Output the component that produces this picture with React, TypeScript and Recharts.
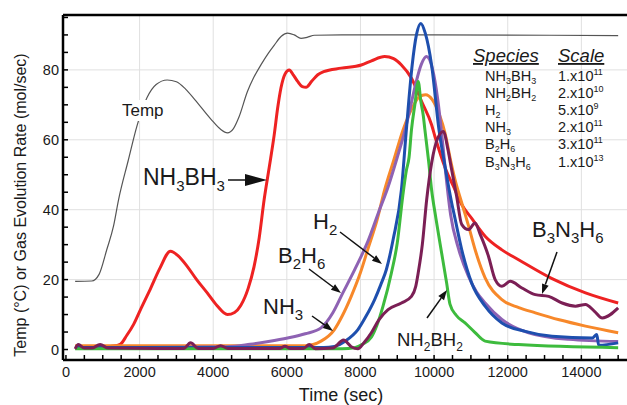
import { LineChart, Line, XAxis, YAxis, ReferenceLine } from 'recharts'

const FONT = '"Liberation Sans", Arial, Helvetica, sans-serif'

// [time (sec), value]
const temp = [
  [250, 19.5], [700, 19.6], [900, 21.5], [1110, 28.6], [1290, 35.2], [1430, 42.9], [1690, 54], [1930, 64],
  [2200, 72], [2450, 75.8], [2750, 77.1], [3000, 76.6], [3250, 74.5], [3500, 71.5], [3930, 66], [4200, 63],
  [4385, 62], [4550, 63.2], [4700, 66.5], [4930, 73.8], [5100, 77.8], [5300, 81.5], [5500, 84.8], [5660, 87.1],
  [5850, 89.6], [6020, 90.5], [6200, 90], [6385, 89], [6550, 89.3], [6750, 89.9], [7500, 90], [10000, 90], [15000, 89.8]
]
const nh3bh3 = [
  [250, 0.3], [1000, 0.3], [1200, 0.8], [1474, 1.5], [1650, 4], [1838, 7.2], [2050, 12], [2292, 17.3],
  [2550, 23.2], [2838, 28.1], [3050, 26.8], [3293, 23.8], [3550, 20], [3838, 16.2], [4100, 12.6], [4385, 10],
  [4580, 10.6], [4748, 12.6], [4950, 17.5], [5111, 23.8], [5250, 32], [5384, 42.9], [5520, 52], [5657, 61.4],
  [5750, 69], [5840, 74.8], [5950, 78.8], [6066, 80], [6180, 78.5], [6294, 76.7], [6420, 75.2], [6521, 75],
  [6680, 76.8], [6840, 78.6], [7000, 79.5], [7476, 80.5], [8022, 81.4], [8300, 82.6], [8658, 83.8], [8900, 83.2],
  [9113, 81.4], [9386, 77.6], [9659, 71], [9932, 64.3], [10022, 61], [10300, 52], [10568, 45.7], [10750, 41.5],
  [11022, 37.5], [11386, 32.4], [11841, 28.5], [12295, 25.7], [13204, 20.3], [14113, 16.2], [15000, 13.3]
]
const nh3 = [
  [250, 1.1], [6500, 1.1], [6930, 2.4], [7293, 5.7], [7500, 9.5], [7749, 15.2], [8000, 22], [8204, 28.8],
  [8450, 37], [8658, 45.7], [8900, 54], [9159, 62.9], [9400, 69], [9600, 72.3], [9768, 72.9], [9950, 71.5],
  [10150, 67], [10295, 62], [10450, 54], [10568, 48.6], [10750, 42], [10932, 35.5], [11113, 28.6], [11386, 20.5],
  [11841, 14.3], [12300, 12], [12750, 10.5], [13400, 8.5], [14113, 6.7], [15000, 4.8]
]
const b2h6 = [
  [250, 0.5], [4385, 0.8], [5000, 1.5], [5500, 2.3], [6022, 3.3], [6500, 4.5], [6930, 6.2], [7250, 10.5],
  [7522, 16.2], [7850, 23], [8204, 31], [8500, 39.5], [8750, 46.5], [9000, 55], [9204, 62.5], [9350, 69],
  [9500, 76], [9650, 81.5], [9795, 83.8], [9950, 80.5], [10100, 71.5], [10205, 62], [10300, 52], [10450, 38.5],
  [10659, 29], [10932, 21], [11150, 16.5], [11386, 13.3], [11841, 8.6], [12568, 4.8], [13659, 2.9], [15000, 2.3]
]
const h2 = [
  [250, 0.6], [7000, 0.6], [7293, 0.9], [7600, 2.5], [7931, 5.7], [8150, 9.5], [8385, 14.3], [8550, 18.5],
  [8704, 22.9], [8886, 31.4], [9113, 45.7], [9240, 62], [9405, 81.4], [9520, 90], [9640, 93.3], [9760, 90.5],
  [9932, 81.4], [10131, 63], [10295, 52.5], [10477, 42], [10568, 37.5], [10750, 28.6], [11022, 19], [11386, 12.4],
  [11841, 7.6], [12477, 5.2], [13204, 3.8], [14295, 3.3], [14420, 4.3], [14470, 1.2], [15000, 1.9]
]
const nh2bh2 = [
  [250, 0.2], [7500, 0.2], [7840, 0.5], [8050, 1.5], [8295, 3.5], [8450, 7], [8613, 12.4], [8840, 21.9],
  [9000, 30.5], [9150, 44], [9250, 51.4], [9320, 55], [9386, 62.9], [9477, 70], [9569, 76.7], [9640, 71],
  [9705, 67], [9750, 62.9], [9850, 54], [9932, 45.7], [10050, 37.5], [10159, 30.5], [10341, 19], [10431, 13],
  [10600, 9.8], [10841, 7.6], [11100, 5], [11386, 2.4], [12295, 1.4], [15000, 0.5]
]
const b3n3h6 = [
  [250, 0.2], [336, 1.4], [500, 0.4], [700, 0.4], [928, 1.4], [1150, 0.4], [3200, 0.3], [3384, 1.9],
  [3600, 0.3], [4000, 0.3], [4200, 1.1], [4400, 0.3], [5800, 0.3], [5950, 0.9], [6100, 0.3], [6450, 0.3],
  [6611, 1.4], [6780, 0.2], [7250, 0.4], [7540, 2.7], [7750, 0.8], [7931, 0.2], [8100, 2], [8295, 4.8],
  [8500, 8.5], [8750, 11.4], [9113, 13.3], [9386, 15.2], [9500, 18], [9568, 21.9], [9680, 30], [9800, 43],
  [9932, 53.3], [10100, 60.5], [10250, 62.4], [10380, 57], [10477, 51.4], [10610, 44], [10750, 35.8], [10932, 34.3],
  [11113, 36.2], [11250, 33], [11477, 26.7], [11659, 20], [11841, 18.1], [12068, 19.5], [12386, 17.6], [12750, 15.7],
  [13113, 15.2], [13477, 13.3], [13841, 12.4], [14113, 12.9], [14350, 11], [14568, 9], [15000, 11.9]
]

const xMajor = [0, 2000, 4000, 6000, 8000, 10000, 12000, 14000]
const yMajor = [0, 20, 40, 60, 80]
const xTicks = Array.from({ length: 31 }, (_, i) => i * 500)
const yTicks = Array.from({ length: 20 }, (_, i) => i * 5)
const xDomain = [-80, 15240]
const yDomain = [-3, 95.7]

const species = ['NH3BH3', 'NH2BH2', 'H2', 'NH3', 'B2H6', 'B3N3H6']
const scaleBase = ['1.x10', '2.x10', '5.x10', '2.x10', '3.x10', '1.x10']
const scaleExp = ['11', '10', '9', '11', '11', '13']

const toPts = (rows: number[][]) => rows.map(([t, v]) => ({ t, v }))

const series = [
  { name: 'Temp', rows: temp, color: '#555', width: 1.2 },
  { name: 'NH3BH3', rows: nh3bh3, color: '#ee2222', width: 3 },
  { name: 'NH3', rows: nh3, color: '#f7882a', width: 3 },
  { name: 'B2H6', rows: b2h6, color: '#8e62b3', width: 3 },
  { name: 'H2', rows: h2, color: '#1e4fae', width: 3 },
  { name: 'NH2BH2', rows: nh2bh2, color: '#3dbb3d', width: 3 },
  { name: 'B3N3H6', rows: b3n3h6, color: '#7b1f55', width: 3 },
]

const INK = '#1a1a1a'

function XTick (props: any) {
  const { x, payload } = props
  return (
    <g>
      <line x1={x} x2={x} y1={360} y2={355} stroke='#000' strokeWidth={1.5} />
      {xMajor.includes(payload.value) && (
        <text x={x} y={377} textAnchor='middle' fontSize={14.5} fill={INK} fontFamily={FONT}>{payload.value}</text>
      )}
    </g>
  )
}

function YTick (props: any) {
  const { y, payload } = props
  return (
    <g>
      <line x1={63} x2={68} y1={y} y2={y} stroke='#000' strokeWidth={1.5} />
      {yMajor.includes(payload.value) && (
        <text x={59} y={y + 5} textAnchor='end' fontSize={14.5} fill={INK} fontFamily={FONT}>{payload.value}</text>
      )}
    </g>
  )
}

// digits become subscripts
function Formula ({ x, y, f, size, sub, shift }: any) {
  const parts = f.split(/(\d+)/).filter((p: string) => p !== '')
  let down = false
  return (
    <text x={x} y={y} fontSize={size} fill={INK} fontFamily={FONT}>
      {parts.map((p: string, i: number) => {
        const isSub = /^\d+$/.test(p)
        const dy = isSub ? (down ? 0 : shift) : (down ? -shift : 0)
        down = isSub
        return <tspan key={i} dy={dy} fontSize={isSub ? sub : size}>{p}</tspan>
      })}
    </text>
  )
}

function Arrow ({ x1, y1, x2, y2, len = 10, hw = 3.5 }: any) {
  const a = Math.atan2(y2 - y1, x2 - x1)
  const bx = x2 - len * Math.cos(a)
  const by = y2 - len * Math.sin(a)
  const px = -Math.sin(a) * hw
  const py = Math.cos(a) * hw
  return (
    <g>
      <line x1={x1} y1={y1} x2={bx} y2={by} stroke='#111' strokeWidth={1.5} />
      <polygon points={`${x2},${y2} ${bx + px},${by + py} ${bx - px},${by - py}`} fill='#111' />
    </g>
  )
}

function Overlay () {
  return (
    <svg width={627} height={405} style={{ position: 'absolute', left: 0, top: 0, pointerEvents: 'none' }}>
      <text x={20} y={205} transform='rotate(-90 20 205)' textAnchor='middle' dominantBaseline='central'
        fontSize={16} fill={INK} fontFamily={FONT}>Temp (°C) or Gas Evolution Rate (mol/sec)</text>
      <text x={341} y={401} textAnchor='middle' fontSize={18} fill={INK} fontFamily={FONT}>Time (sec)</text>

      <rect x={120} y={100} width={48} height={21} fill='#fff' />
      <text x={122} y={116} fontSize={17} fill={INK} fontFamily={FONT}>Temp</text>

      <Formula x={143} y={185} f='NH3BH3' size={23} sub={15} shift={6} />
      <Arrow x1={228} y1={180} x2={267} y2={180} len={22} hw={6} />

      <Formula x={313} y={229} f='H2' size={22} sub={15} shift={6} />
      <Arrow x1={340} y1={232} x2={382} y2={264} />

      <Formula x={278} y={263} f='B2H6' size={22} sub={15} shift={6} />
      <Arrow x1={309} y1={269} x2={341} y2={293} />

      <Formula x={263} y={314} f='NH3' size={22} sub={15} shift={6} />
      <Arrow x1={312} y1={316} x2={333} y2={331} />

      <Formula x={397} y={346} f='NH2BH2' size={18.5} sub={12} shift={5} />
      <Arrow x1={427} y1={318} x2={447} y2={290} />

      <Formula x={532} y={237} f='B3N3H6' size={22} sub={15} shift={6} />
      <Arrow x1={557} y1={252} x2={542} y2={294} />

      <text x={473} y={62} fontSize={18.5} fontStyle='italic' fill={INK} fontFamily={FONT} textDecoration='underline'>Species</text>
      <text x={558} y={62} fontSize={18.5} fontStyle='italic' fill={INK} fontFamily={FONT} textDecoration='underline'>Scale</text>
      {species.map((s, i) => (
        <Formula key={s} x={485} y={80.5 + i * 17.2} f={s} size={14.5} sub={9} shift={3} />
      ))}
      {scaleBase.map((b, i) => (
        <text key={i} x={558} y={80.5 + i * 17.2} fontSize={14.5} fill={INK} fontFamily={FONT}>
          {b}<tspan dy={-6} fontSize={9}>{scaleExp[i]}</tspan>
        </text>
      ))}
    </svg>
  )
}

export default function App () {
  return (
    <div style={{ position: 'absolute', left: 0, top: 0, width: 627, height: 405, background: '#fff', overflow: 'hidden' }}>
      <LineChart width={627} height={405} margin={{ top: 15, right: 0, left: 0, bottom: 0 }}>
        <XAxis dataKey='t' type='number' domain={xDomain} ticks={xTicks} interval={0} allowDataOverflow
          height={45} tick={<XTick />} tickLine={false} axisLine={{ stroke: '#000', strokeWidth: 2.5 }} />
        <YAxis type='number' domain={yDomain} ticks={yTicks} interval={0} allowDataOverflow
          width={63} tick={<YTick />} tickLine={false} axisLine={{ stroke: '#000', strokeWidth: 2.5 }} />
        {xMajor.filter(v => v > 0).map(v => (
          <ReferenceLine key={'gx' + v} x={v} stroke='#e0e0e0' strokeWidth={1} />
        ))}
        {yMajor.filter(v => v > 0).map(v => (
          <ReferenceLine key={'gy' + v} y={v} stroke='#e0e0e0' strokeWidth={1} />
        ))}
        <ReferenceLine y={yDomain[1]} stroke='#000' strokeWidth={2.5} />
        {series.map(s => (
          <Line key={s.name} data={toPts(s.rows)} dataKey='v' type='monotone' stroke={s.color}
            strokeWidth={s.width} dot={false} activeDot={false} isAnimationActive={false} />
        ))}
      </LineChart>
      <Overlay />
    </div>
  )
}
